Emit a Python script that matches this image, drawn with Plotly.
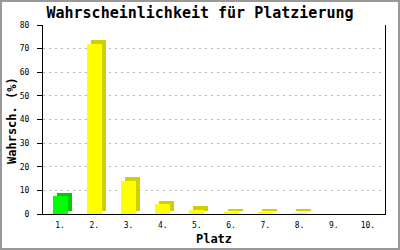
import plotly.graph_objects as go

categories = ["1.", "2.", "3.", "4.", "5.", "6.", "7.", "8.", "9.", "10."]
values = [7.6, 72.0, 14.0, 4.2, 1.8, 0.7, 0.7, 0.3, 0.0, 0.0]
front_colors = ["#00FF00"] + ["#FFFF00"] * 9
side_colors = ["#00CC00"] + ["#D0D000"] * 9
y_ticks = [0, 10, 20, 30, 40, 50, 60, 70, 80]

W, H = 400, 250
L, R, T, B = 43, 15, 25, 36
pw, ph = W - L - R, H - T - B
depth_y = 3.5 / ph * 80      # px in data units
bar_w = 15 / pw * 10
off = -bar_w / 2
depth_x = 4 / pw * 10

fig = go.Figure()
fig.add_trace(go.Bar(x=categories, y=values, base=[depth_y] * len(values),
                     width=bar_w, offset=off + depth_x,
                     marker=dict(color=side_colors, line=dict(width=0)),
                     hoverinfo="skip"))
fig.add_trace(go.Bar(x=categories, y=values, base=[0] * len(values),
                     width=bar_w, offset=off,
                     marker=dict(color=front_colors, line=dict(width=0))))

def px_x(p):
    return (p - L) / pw

def px_y(p):
    return (H - B - p) / ph

fig.add_shape(type="rect", xref="paper", yref="paper",
              x0=px_x(1), x1=px_x(399), y0=px_y(249), y1=px_y(1),
              line=dict(color="#999999", width=2), layer="below")

fig.add_annotation(text="<b>Wahrsch. (%)</b>", textangle=-90, showarrow=False,
                   xref="paper", yref="paper", x=px_x(12), y=px_y(121),
                   xanchor="center", yanchor="middle",
                   font=dict(family="DejaVu Sans Mono", size=12, color="black"))

fig.update_layout(
    width=W, height=H, margin=dict(l=L, r=R, t=T, b=B, pad=0, autoexpand=False),
    paper_bgcolor="white", plot_bgcolor="white",
    showlegend=False, barmode="overlay", bargap=0,
    font=dict(family="DejaVu Sans Mono", color="black", size=8),
    title=dict(text="<b>Wahrscheinlichkeit für Platzierung</b>",
               x=0.5, xref="container", xanchor="center", y=1 - 13 / H, yanchor="middle",
               font=dict(family="DejaVu Sans Mono", size=15, color="black")),
    xaxis=dict(type="category", showline=True, linecolor="black", linewidth=1,
               ticks="", showgrid=False, zeroline=False, ticklabelstandoff=3,
               automargin=False,
               tickfont=dict(family="DejaVu Sans Mono", size=8),
               title=dict(text="<b>Platz</b>", standoff=6,
                          font=dict(family="DejaVu Sans Mono", size=12)),
               range=[-0.5, 9.5], fixedrange=True),
    yaxis=dict(range=[0, 80], tickvals=y_ticks, showline=True, mirror=True,
               linecolor="black", linewidth=1, ticks="outside", ticklen=5,
               tickcolor="black", tickwidth=1, ticklabelstandoff=6,
               automargin=False,
               showgrid=True, gridcolor="#BBBBBB", gridwidth=1, griddash="2px,4px",
               zeroline=False,
               tickfont=dict(family="DejaVu Sans Mono", size=8),
               fixedrange=True),
)

fig.write_html("out.html", config={"displayModeBar": False})
